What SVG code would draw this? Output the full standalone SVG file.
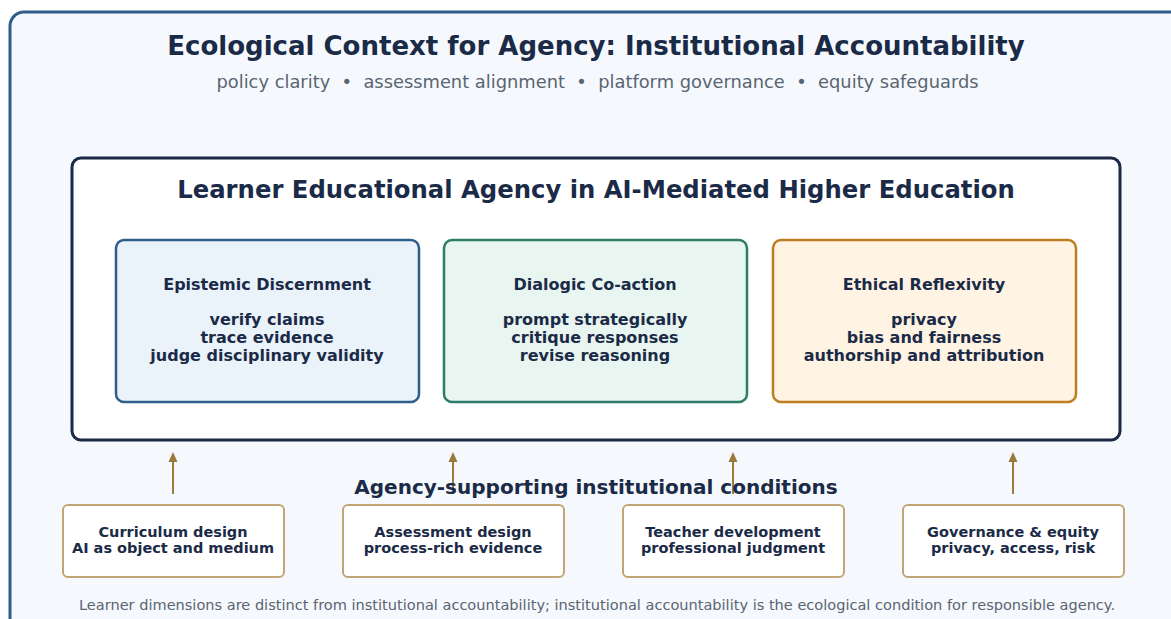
<svg xmlns="http://www.w3.org/2000/svg" width="1171" height="619" viewBox="0 0 1171 619">
  <defs>
    <marker id="arrowUp" markerWidth="10" markerHeight="10" refX="5" refY="5" orient="auto" markerUnits="userSpaceOnUse">
      <path d="M0,0.5 L10,5 L0,9.5 Z" fill="#9b7a3c"/>
    </marker>
    <style>
      text { font-family: "DejaVu Sans", "Liberation Sans", sans-serif; fill: #1b2b47; text-anchor: middle; }
      .title { font-size: 26px; font-weight: bold; }
      .sub { font-size: 17.85px; fill: #5a6472; white-space: pre; }
      .inner-title { font-size: 24.3px; font-weight: bold; }
      .card-title { font-size: 16px; font-weight: bold; }
      .card-line { font-size: 16px; font-weight: bold; }
      .cond-title { font-size: 20px; font-weight: bold; }
      .cond { font-size: 14.5px; font-weight: bold; }
      .foot { font-size: 14.55px; fill: #5a6472; }
      .cond-box { fill: #ffffff; stroke: #c2a574; stroke-width: 2; }
      .link { stroke: #9b7a3c; stroke-width: 2; fill: none; }
    </style>
  </defs>

  <rect width="1171" height="619" fill="#ffffff"/>

  <!-- ecological context frame -->
  <g id="context">
    <rect x="10" y="12" width="1180" height="630" rx="14" fill="#f5f9fd" stroke="#2f5d8c" stroke-width="3"/>
    <text class="title" x="596" y="55">Ecological Context for Agency: Institutional Accountability</text>
    <text class="sub" x="597.5" y="88" xml:space="preserve">policy clarity  •  assessment alignment  •  platform governance  •  equity safeguards</text>
  </g>

  <!-- learner agency box -->
  <g id="learner-agency">
    <rect x="72" y="158" width="1048" height="282" rx="9" fill="#ffffff" stroke="#1b2b47" stroke-width="3"/>
    <text class="inner-title" x="596" y="198">Learner Educational Agency in AI-Mediated Higher Education</text>
  </g>

  <g id="epistemic">
    <rect x="116" y="240" width="303" height="162" rx="8" fill="#eaf2fa" stroke="#2f5d8c" stroke-width="2.5"/>
    <text class="card-title" x="267" y="290">Epistemic Discernment</text>
    <text class="card-line" x="267" y="325">verify claims</text>
    <text class="card-line" x="267" y="343">trace evidence</text>
    <text class="card-line" x="267" y="361">judge disciplinary validity</text>
  </g>

  <g id="dialogic">
    <rect x="444" y="240" width="303" height="162" rx="8" fill="#e9f5f0" stroke="#2e7d68" stroke-width="2.5"/>
    <text class="card-title" x="595" y="290">Dialogic Co-action</text>
    <text class="card-line" x="595" y="325">prompt strategically</text>
    <text class="card-line" x="595" y="343">critique responses</text>
    <text class="card-line" x="595" y="361">revise reasoning</text>
  </g>

  <g id="ethical">
    <rect x="773" y="240" width="303" height="162" rx="8" fill="#fff4e4" stroke="#bf7d22" stroke-width="2.5"/>
    <text class="card-title" x="924" y="290">Ethical Reflexivity</text>
    <text class="card-line" x="924" y="325">privacy</text>
    <text class="card-line" x="924" y="343">bias and fairness</text>
    <text class="card-line" x="924" y="361">authorship and attribution</text>
  </g>

  <!-- connectors from conditions up to learner agency -->
  <g id="connectors">
    <line class="link" x1="173" y1="494" x2="173" y2="457" marker-end="url(#arrowUp)"/>
    <line class="link" x1="453" y1="494" x2="453" y2="457" marker-end="url(#arrowUp)"/>
    <line class="link" x1="733" y1="494" x2="733" y2="457" marker-end="url(#arrowUp)"/>
    <line class="link" x1="1013" y1="494" x2="1013" y2="457" marker-end="url(#arrowUp)"/>
  </g>

  <text class="cond-title" x="596" y="494">Agency-supporting institutional conditions</text>

  <g id="curriculum">
    <rect class="cond-box" x="63" y="505" width="221" height="72" rx="5"/>
    <text class="cond" x="173" y="537">Curriculum design</text>
    <text class="cond" x="173" y="553">AI as object and medium</text>
  </g>

  <g id="assessment">
    <rect class="cond-box" x="343" y="505" width="221" height="72" rx="5"/>
    <text class="cond" x="453" y="537">Assessment design</text>
    <text class="cond" x="453" y="553">process-rich evidence</text>
  </g>

  <g id="teacher">
    <rect class="cond-box" x="623" y="505" width="221" height="72" rx="5"/>
    <text class="cond" x="733" y="537">Teacher development</text>
    <text class="cond" x="733" y="553">professional judgment</text>
  </g>

  <g id="governance">
    <rect class="cond-box" x="903" y="505" width="221" height="72" rx="5"/>
    <text class="cond" x="1013" y="537">Governance &amp; equity</text>
    <text class="cond" x="1013" y="553">privacy, access, risk</text>
  </g>

  <text class="foot" x="597" y="610">Learner dimensions are distinct from institutional accountability; institutional accountability is the ecological condition for responsible agency.</text>
</svg>
